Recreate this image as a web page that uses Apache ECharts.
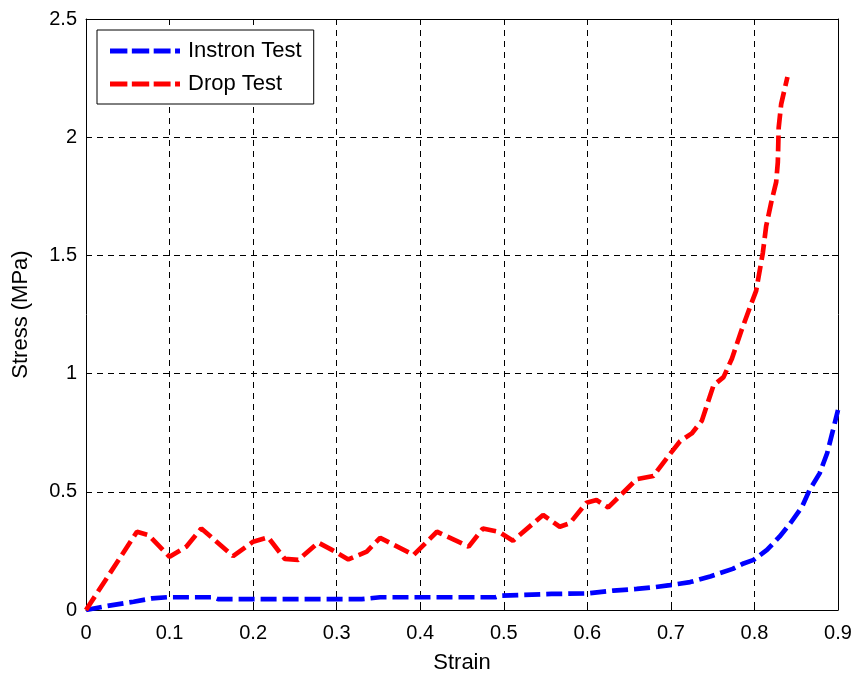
<!DOCTYPE html>
<html>
<head>
<meta charset="utf-8">
<script src="https://cdn.jsdelivr.net/npm/echarts@6/dist/echarts.min.js"></script>
<style>
html,body{margin:0;padding:0;background:#fff;}
#chart{width:858px;height:673px;}
</style>
</head>
<body>
<div id="chart"></div>
<script>
var xTicks = [0, 0.1, 0.2, 0.3, 0.4, 0.5, 0.6, 0.7, 0.8, 0.9];
var yTicks = [0, 0.5, 1, 1.5, 2, 2.5];

var instronStrain = [0, 0.025, 0.057, 0.079, 0.097, 0.152, 0.158, 0.33, 0.352, 0.49, 0.495, 0.557, 0.60, 0.631, 0.659, 0.679, 0.699, 0.723, 0.747, 0.774, 0.787, 0.799, 0.815, 0.830, 0.843, 0.857, 0.866, 0.878, 0.887, 0.894, 0.900];
var instronStress = [0, 0.017, 0.035, 0.049, 0.054, 0.054, 0.046, 0.046, 0.054, 0.054, 0.060, 0.068, 0.070, 0.082, 0.089, 0.096, 0.105, 0.118, 0.142, 0.174, 0.197, 0.212, 0.254, 0.310, 0.367, 0.437, 0.508, 0.578, 0.663, 0.761, 0.846];

var dropStrain = [0, 0.061, 0.075, 0.100, 0.120, 0.138, 0.176, 0.200, 0.218, 0.238, 0.254, 0.278, 0.296, 0.314, 0.336, 0.352, 0.392, 0.420, 0.458, 0.475, 0.494, 0.511, 0.547, 0.567, 0.579, 0.599, 0.611, 0.625, 0.659, 0.679, 0.699, 0.711, 0.725, 0.737, 0.751, 0.763, 0.773, 0.784, 0.796, 0.802, 0.810, 0.814, 0.820, 0.826, 0.828, 0.829, 0.832, 0.8395];
var dropStress = [0, 0.331, 0.317, 0.225, 0.268, 0.345, 0.228, 0.289, 0.307, 0.216, 0.212, 0.285, 0.251, 0.214, 0.247, 0.305, 0.233, 0.331, 0.268, 0.345, 0.331, 0.293, 0.402, 0.352, 0.367, 0.454, 0.465, 0.434, 0.553, 0.567, 0.660, 0.714, 0.747, 0.800, 0.950, 0.985, 1.063, 1.178, 1.294, 1.350, 1.510, 1.623, 1.723, 1.810, 1.895, 2.040, 2.140, 2.255];

function zip(a, b) { return a.map(function (v, i) { return [v, b[i]]; }); }

var FONT = '"Liberation Sans", Arial, sans-serif';
var chart = echarts.init(document.getElementById('chart'), null, {renderer: 'canvas'});

var gridLine = {show: true, lineStyle: {color: '#000', width: 1, type: [6, 5]}};
var frameLine = {show: true, onZero: false, lineStyle: {color: '#000', width: 1}};
var dashIcon = 'path://M0,0h17.5v5h-17.5z M22,0h17.5v5h-17.5z M44,0h17v5h-17z M65.5,0h5v5h-5z';

chart.setOption({
  backgroundColor: '#fff',
  animation: false,
  grid: {left: 86, right: 20, top: 19, bottom: 63, containLabel: false, outerBoundsMode: 'none'},
  legend: {
    orient: 'vertical',
    left: 97, top: 30,
    padding: [10, 12, 9, 13],
    itemGap: 11,
    itemWidth: 70, itemHeight: 5,
    backgroundColor: '#fff',
    borderColor: '#000', borderWidth: 1, borderRadius: 0,
    textStyle: {fontFamily: FONT, fontSize: 22, color: '#000', padding: [0, 0, 0, 3]},
    data: [{name: 'Instron Test', icon: dashIcon}, {name: 'Drop Test', icon: dashIcon}]
  },
  xAxis: [{
    type: 'value', min: 0, max: 0.9, interval: 0.1,
    name: 'Strain', nameLocation: 'middle', nameGap: 42,
    nameTextStyle: {fontFamily: FONT, fontSize: 22, color: '#000'},
    axisLine: frameLine,
    axisTick: {show: true, inside: true, length: 6, lineStyle: {color: '#000'}},
    axisLabel: {fontFamily: FONT, fontSize: 20, color: '#000', margin: 13,
      formatter: function (v) { var r = Math.round(v * 10) / 10; return xTicks.indexOf(r) >= 0 ? String(r) : ''; }},
    splitLine: gridLine
  }, {
    type: 'value', min: 0, max: 0.9, interval: 0.1, position: 'top',
    axisLine: frameLine,
    axisTick: {show: true, inside: true, length: 6, lineStyle: {color: '#000'}},
    axisLabel: {show: false}, splitLine: {show: false}
  }],
  yAxis: [{
    type: 'value', min: 0, max: 2.5, interval: 0.5,
    name: 'Stress (MPa)', nameLocation: 'middle', nameGap: 54,
    nameTextStyle: {fontFamily: FONT, fontSize: 22, color: '#000'},
    axisLine: frameLine,
    axisTick: {show: true, inside: true, length: 6, lineStyle: {color: '#000'}},
    axisLabel: {fontFamily: FONT, fontSize: 20, color: '#000', margin: 9,
      formatter: function (v) { var r = Math.round(v * 10) / 10; return yTicks.indexOf(r) >= 0 ? String(r) : ''; }},
    splitLine: gridLine
  }, {
    type: 'value', min: 0, max: 2.5, interval: 0.5, position: 'right',
    axisLine: frameLine,
    axisTick: {show: true, inside: true, length: 6, lineStyle: {color: '#000'}},
    axisLabel: {show: false}, splitLine: {show: false}
  }],
  series: [{
    name: 'Instron Test', type: 'line', xAxisIndex: 0, yAxisIndex: 0,
    data: zip(instronStrain, instronStress),
    symbol: 'none', color: '#0000ff',
    lineStyle: {color: '#0000ff', width: 4.7, type: [16, 6]},
    z: 3
  }, {
    name: 'Drop Test', type: 'line', xAxisIndex: 0, yAxisIndex: 0,
    data: zip(dropStrain, dropStress),
    symbol: 'none', color: '#ff0000',
    lineStyle: {color: '#ff0000', width: 4.7, type: [16, 6]},
    z: 3
  }]
});
</script>
</body>
</html>
